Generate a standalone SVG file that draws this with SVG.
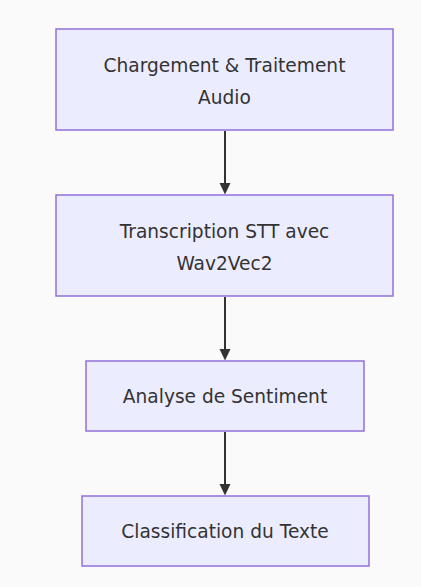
<svg xmlns="http://www.w3.org/2000/svg" width="421" height="587" viewBox="0 0 421 587">
<style>
.node rect{fill:#ECECFF;stroke:#9370DB;stroke-width:1.5}
.node text{font-family:"DejaVu Sans","Liberation Sans",sans-serif;font-size:18.6px;fill:#333;text-anchor:middle;dominant-baseline:central}
.edge{stroke:#333;stroke-width:2;fill:none}
.head{fill:#333}
</style>
<rect width="421" height="587" fill="#fafafa"/>
<g id="connectors">
<path d="M225,131 V184" class="edge"/>
<path d="M219.5,183 L230.5,183 L225,194.5 z" class="head"/>
<path d="M225,297 V350" class="edge"/>
<path d="M219.5,349 L230.5,349 L225,360.5 z" class="head"/>
<path d="M225,432 V485" class="edge"/>
<path d="M219.5,484 L230.5,484 L225,495.5 z" class="head"/>
</g>
<g id="n1" class="node">
<rect x="56" y="29" width="337" height="101"/>
<text x="224.5" y="65">Chargement &amp; Traitement</text>
<text x="224.5" y="97">Audio</text>
</g>
<g id="n2" class="node">
<rect x="56" y="195" width="337" height="101"/>
<text x="224.5" y="231">Transcription STT avec</text>
<text x="224.5" y="263">Wav2Vec2</text>
</g>
<g id="n3" class="node">
<rect x="86" y="361" width="278" height="70"/>
<text x="225" y="396">Analyse de Sentiment</text>
</g>
<g id="n4" class="node">
<rect x="82" y="496" width="287" height="70"/>
<text x="225" y="531">Classification du Texte</text>
</g>
</svg>
